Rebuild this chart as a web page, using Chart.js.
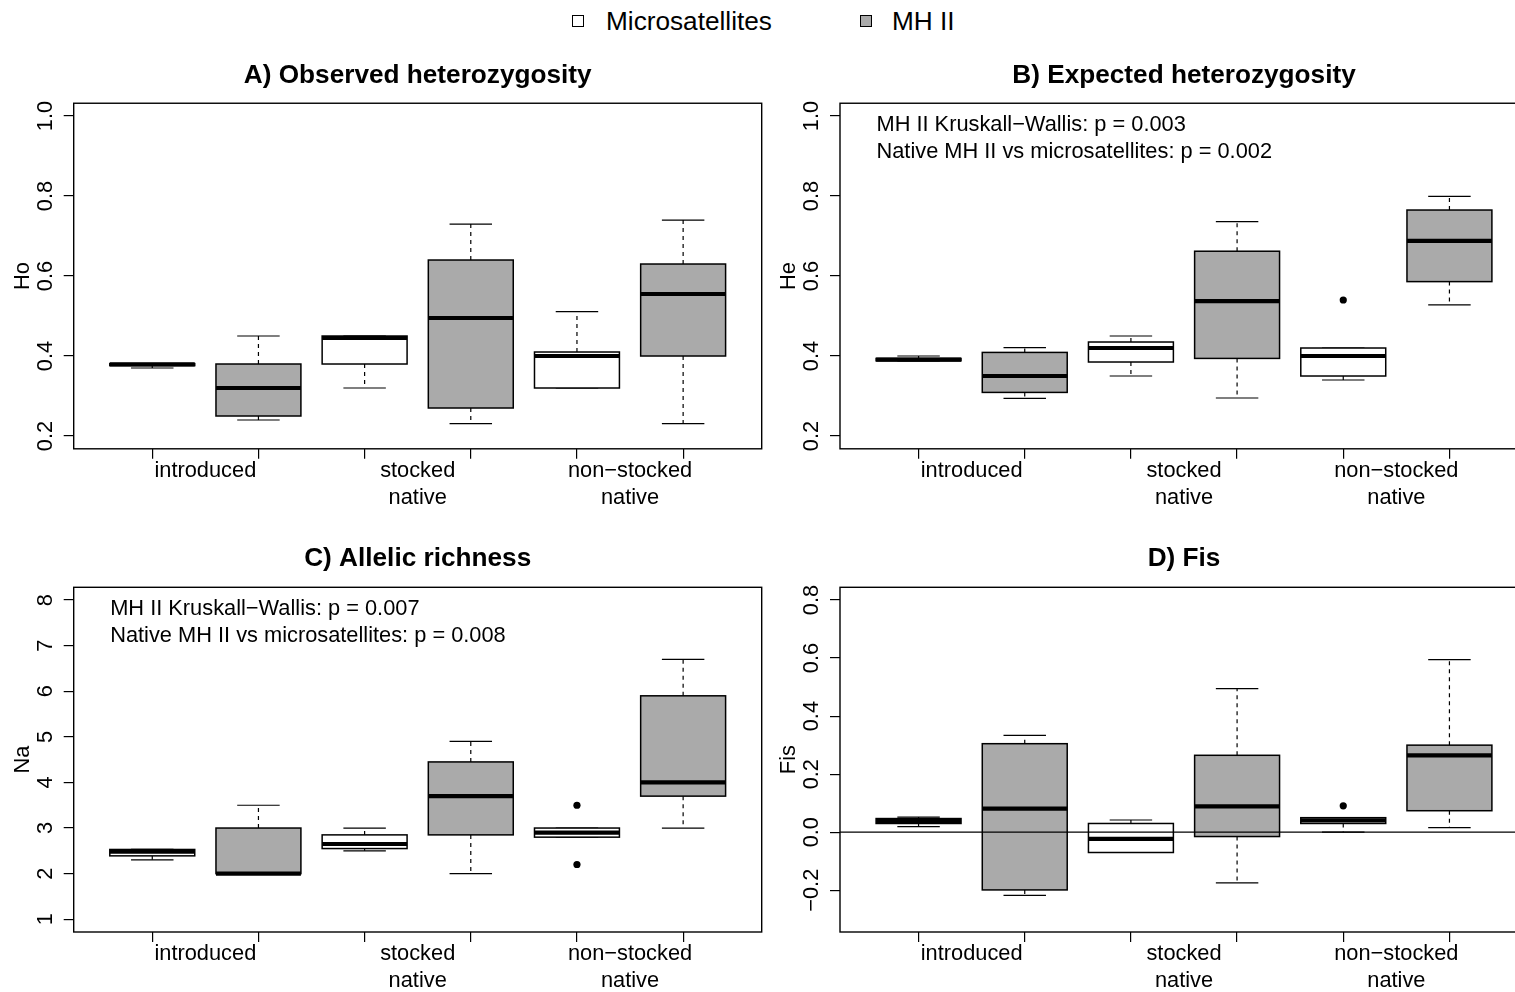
<!DOCTYPE html>
<html>
<head>
<meta charset="utf-8">
<script src="https://cdn.jsdelivr.net/npm/chart.js@4.4.1/dist/chart.umd.min.js"></script>
<style>
  body { margin: 0; background: #fff; }
  #fig { position: relative; width: 1515px; height: 992px; overflow: hidden; background: #fff;
         font-family: "Liberation Sans", Arial, sans-serif; color: #000; }
  #fig canvas { position: absolute; }
  .key { position: absolute; top: 6px; font-size: 26.2px; line-height: 30px; white-space: nowrap; }
  .sw { position: absolute; top: 15px; width: 12px; height: 12px; border: 1.2px solid #000; box-sizing: border-box; }
</style>
</head>
<body>
<div id="fig">
  <div class="sw" style="left:572px;background:#ffffff"></div>
  <div class="key" style="left:606px">Microsatellites</div>
  <div class="sw" style="left:860px;background:#aaaaaa"></div>
  <div class="key" style="left:892px">MH II</div>
  <canvas id="chartA" width="770" height="480" style="left:0px;top:40px"></canvas>
  <canvas id="chartB" width="770" height="480" style="left:770px;top:40px"></canvas>
  <canvas id="chartC" width="770" height="468" style="left:0px;top:524px"></canvas>
  <canvas id="chartD" width="770" height="468" style="left:770px;top:524px"></canvas>
</div>
<script>
// groups on the x axis, two boxes per group (microsatellites, MH II)
const groupLabels = [['introduced'], ['stocked', 'native'], ['non\u2212stocked', 'native']];
const seriesFill = ['#ffffff', '#aaaaaa'];
const boxPositions = [1, 2, 3, 4, 5, 6];

// box summaries per group: [min, q1, median, q3, max]
const hoMicro = [[0.370, 0.376, 0.379, 0.381, 0.381], [0.320, 0.380, 0.445, 0.450, 0.450], [0.320, 0.320, 0.400, 0.410, 0.511]];
const hoMH    = [[0.240, 0.250, 0.320, 0.380, 0.450], [0.231, 0.270, 0.495, 0.640, 0.730], [0.231, 0.400, 0.555, 0.630, 0.740]];
const hoMicroOut = [[], [], []];

const heMicro = [[0.388, 0.388, 0.391, 0.394, 0.400], [0.350, 0.385, 0.420, 0.435, 0.450], [0.340, 0.350, 0.400, 0.420, 0.420]];
const heMH    = [[0.294, 0.309, 0.350, 0.409, 0.421], [0.295, 0.394, 0.537, 0.662, 0.736], [0.528, 0.586, 0.688, 0.765, 0.799]];
const heMicroOut = [[], [], [0.540]];

const naMicro = [[2.30, 2.39, 2.48, 2.53, 2.53], [2.50, 2.55, 2.65, 2.85, 3.00], [2.80, 2.80, 2.90, 3.00, 3.00]];
const naMH    = [[2.00, 2.00, 2.00, 3.00, 3.50], [2.00, 2.85, 3.70, 4.45, 4.90], [3.00, 3.70, 4.00, 5.90, 6.70]];
const naMicroOut = [[], [], [3.5, 2.2]];

const fisMicro = [[0.019, 0.030, 0.039, 0.047, 0.052], [-0.070, -0.070, -0.023, 0.030, 0.042], [0.000, 0.030, 0.041, 0.050, 0.050]];
const fisMH    = [[-0.218, -0.199, 0.081, 0.305, 0.334], [-0.175, -0.015, 0.089, 0.265, 0.495], [0.016, 0.074, 0.265, 0.300, 0.595]];
const fisMicroOut = [[], [], [0.091]];

// y axis limits and tick labels
const hoLim = [0.2, 1.0];
const hoTicks = [0.2, 0.4, 0.6, 0.8, 1.0];
const heLim = [0.2, 1.0];
const heTicks = [0.2, 0.4, 0.6, 0.8, 1.0];
const naLim = [1, 8];
const naTicks = [1, 2, 3, 4, 5, 6, 7, 8];
const fisLim = [-0.3, 0.8];
const fisTicks = [-0.2, 0.0, 0.2, 0.4, 0.6, 0.8];

const heNotes = ['MH II Kruskall\u2212Wallis: p = 0.003', 'Native MH II vs microsatellites: p = 0.002'];
const naNotes = ['MH II Kruskall\u2212Wallis: p = 0.007', 'Native MH II vs microsatellites: p = 0.008'];

const FONT = '"Liberation Sans", Arial, sans-serif';
const AXIS_SIZE = 21.8;
Chart.defaults.font.family = FONT;
Chart.defaults.color = '#000';

function fmtTick(v, digits) {
    return v.toFixed(digits).replace('-', '\u2212');
}

function makePanel(id, cfg) {
    const canvas = document.getElementById(id);
    const lo = cfg.lim[0], hi = cfg.lim[1];
    const ext = (hi - lo) * 0.04;
    const xExt = (boxPositions.length) * 0.04;

    // padding so rotated y labels sit at the same distance from the axis
    const mctx = document.createElement('canvas').getContext('2d');
    mctx.font = AXIS_SIZE + 'px ' + FONT;
    const widest = Math.max(...cfg.ticks.map(v => mctx.measureText(fmtTick(v, cfg.digits)).width));

    const outliers = [];
    cfg.microOut.forEach((vals, g) => vals.forEach(v => outliers.push({x: boxPositions[2 * g], y: v})));

    const boxPlugin = {
        id: 'boxes' + id,
        beforeDatasetsDraw(chart) {
            const {ctx, scales: {x, y}} = chart;
            ctx.save();
            [cfg.micro, cfg.mh].forEach((series, s) => {
                series.forEach((d, g) => {
                    const pos = boxPositions[2 * g + s];
                    const cx = x.getPixelForValue(pos);
                    const x0 = x.getPixelForValue(pos - 0.4), x1 = x.getPixelForValue(pos + 0.4);
                    const s0 = x.getPixelForValue(pos - 0.2), s1 = x.getPixelForValue(pos + 0.2);
                    const yMin = y.getPixelForValue(d[0]), yQ1 = y.getPixelForValue(d[1]);
                    const yMed = y.getPixelForValue(d[2]), yQ3 = y.getPixelForValue(d[3]);
                    const yMax = y.getPixelForValue(d[4]);
                    ctx.strokeStyle = '#000';
                    // whiskers
                    ctx.lineWidth = 1.2;
                    ctx.setLineDash([4, 4]);
                    ctx.beginPath();
                    ctx.moveTo(cx, yQ3); ctx.lineTo(cx, yMax);
                    ctx.moveTo(cx, yQ1); ctx.lineTo(cx, yMin);
                    ctx.stroke();
                    ctx.setLineDash([]);
                    // staples
                    ctx.beginPath();
                    ctx.moveTo(s0, yMax); ctx.lineTo(s1, yMax);
                    ctx.moveTo(s0, yMin); ctx.lineTo(s1, yMin);
                    ctx.stroke();
                    // box
                    ctx.fillStyle = seriesFill[s];
                    ctx.fillRect(x0, yQ3, x1 - x0, yQ1 - yQ3);
                    ctx.lineWidth = 1.5;
                    ctx.strokeRect(x0, yQ3, x1 - x0, yQ1 - yQ3);
                    // median
                    ctx.lineWidth = 4.2;
                    ctx.beginPath();
                    ctx.moveTo(x0, yMed); ctx.lineTo(x1, yMed);
                    ctx.stroke();
                });
            });
            ctx.restore();
        },
        afterDatasetsDraw(chart) {
            const {ctx, chartArea: a, scales: {y}} = chart;
            ctx.save();
            ctx.strokeStyle = '#000';
            if (cfg.zeroLine) {
                const y0 = y.getPixelForValue(0);
                ctx.lineWidth = 1.3;
                ctx.beginPath();
                ctx.moveTo(a.left, y0); ctx.lineTo(a.right, y0);
                ctx.stroke();
            }
            ctx.lineWidth = 1.4;
            ctx.strokeRect(a.left, a.top, a.right - a.left, a.bottom - a.top);
            if (cfg.notes) {
                ctx.fillStyle = '#000';
                ctx.font = AXIS_SIZE + 'px ' + FONT;
                ctx.textBaseline = 'middle';
                ctx.textAlign = 'left';
                cfg.notes.forEach((t, i) => ctx.fillText(t, a.left + 36.5, a.top + 21.5 + i * 27));
            }
            ctx.restore();
        }
    };

    return new Chart(canvas, {
        type: 'scatter',
        data: {
            datasets: [{
                label: 'outliers',
                data: outliers,
                pointRadius: 3.6,
                pointHoverRadius: 3.6,
                backgroundColor: '#000',
                borderWidth: 0
            }]
        },
        options: {
            responsive: false,
            animation: false,
            events: [],
            layout: {
                autoPadding: false,
                padding: {left: 0, top: 0, right: cfg.padRight, bottom: 0}
            },
            plugins: {
                legend: {display: false},
                tooltip: {enabled: false},
                title: {
                    display: true,
                    text: cfg.title,
                    fullSize: false,
                    color: '#000',
                    font: {size: 26.2, weight: 'bold', lineHeight: 1.2},
                    padding: {top: cfg.titleTop, bottom: cfg.titleBottom}
                }
            },
            scales: {
                x: {
                    type: 'linear',
                    position: 'bottom',
                    weight: 0,
                    min: 0.5 - xExt,
                    max: boxPositions.length + 0.5 + xExt,
                    afterBuildTicks: (scale) => { scale.ticks = boxPositions.map(v => ({value: v})); },
                    afterFit: (scale) => { scale.height = 10; },
                    grid: {display: true, drawOnChartArea: false, drawTicks: true, tickLength: 10, color: '#000', lineWidth: 1.2},
                    border: {display: false},
                    ticks: {display: false}
                },
                xl: {
                    type: 'linear',
                    position: 'bottom',
                    weight: 1,
                    min: 0.5 - xExt,
                    max: boxPositions.length + 0.5 + xExt,
                    afterBuildTicks: (scale) => {
                        scale.ticks = groupLabels.map((l, g) => ({value: (boxPositions[2 * g] + boxPositions[2 * g + 1]) / 2}));
                    },
                    afterFit: (scale) => { scale.height = cfg.xlHeight; },
                    grid: {display: false},
                    border: {display: false},
                    ticks: {
                        autoSkip: false,
                        maxRotation: 0,
                        minRotation: 0,
                        padding: -9,
                        color: '#000',
                        font: {size: AXIS_SIZE, lineHeight: 1.22},
                        callback: (v) => groupLabels[Math.round((v - 1.5) / 2)]
                    }
                },
                y: {
                    type: 'linear',
                    position: 'left',
                    min: lo - ext,
                    max: hi + ext,
                    afterBuildTicks: (scale) => { scale.ticks = cfg.ticks.map(v => ({value: v})); },
                    afterFit: (scale) => { scale.width = cfg.yWidth; },
                    grid: {display: true, drawOnChartArea: false, drawTicks: true, tickLength: 10, color: '#000', lineWidth: 1.2},
                    border: {display: false},
                    title: {
                        display: true,
                        text: cfg.ylab,
                        color: '#000',
                        font: {size: AXIS_SIZE, lineHeight: 1.2},
                        padding: {top: cfg.yWidth - 51 - AXIS_SIZE * 0.6, bottom: 0}
                    },
                    ticks: {
                        minRotation: 90,
                        maxRotation: 90,
                        crossAlign: 'center',
                        padding: 18.2 - widest / 2,
                        color: '#000',
                        font: {size: AXIS_SIZE},
                        callback: (v) => fmtTick(v, cfg.digits)
                    }
                }
            }
        },
        plugins: [boxPlugin]
    });
}

const topRow = {titleTop: 20.3, titleBottom: 11.5, xlHeight: 61.2};
const bottomRow = {titleTop: 19.3, titleBottom: 12.56, xlHeight: 50};

const chartA = makePanel('chartA', Object.assign({}, topRow, {
    title: 'A) Observed heterozygosity', ylab: 'Ho', yWidth: 73.7, padRight: 8.3,
    micro: hoMicro, mh: hoMH, microOut: hoMicroOut, lim: hoLim, ticks: hoTicks, digits: 1
}));
const chartB = makePanel('chartB', Object.assign({}, topRow, {
    title: 'B) Expected heterozygosity', ylab: 'He', yWidth: 70, padRight: 12,
    micro: heMicro, mh: heMH, microOut: heMicroOut, lim: heLim, ticks: heTicks, digits: 1, notes: heNotes
}));
const chartC = makePanel('chartC', Object.assign({}, bottomRow, {
    title: 'C) Allelic richness', ylab: 'Na', yWidth: 73.7, padRight: 8.3,
    micro: naMicro, mh: naMH, microOut: naMicroOut, lim: naLim, ticks: naTicks, digits: 0, notes: naNotes
}));
const chartD = makePanel('chartD', Object.assign({}, bottomRow, {
    title: 'D) Fis', ylab: 'Fis', yWidth: 70, padRight: 12,
    micro: fisMicro, mh: fisMH, microOut: fisMicroOut, lim: fisLim, ticks: fisTicks, digits: 1, zeroLine: true
}));
</script>
</body>
</html>
